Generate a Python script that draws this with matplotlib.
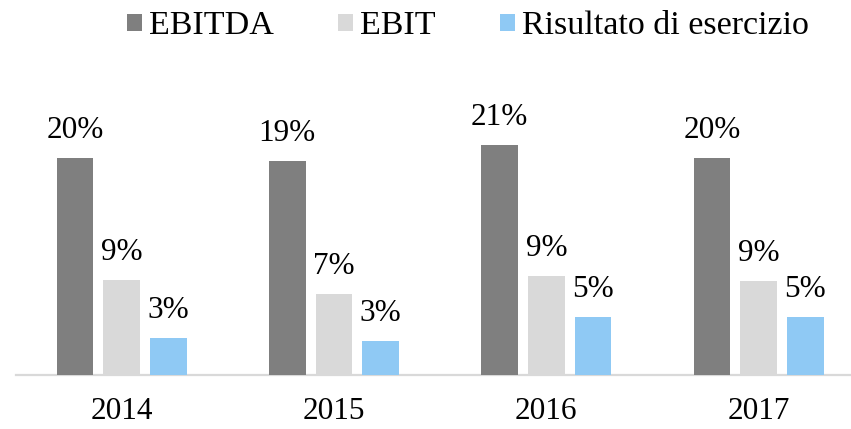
import matplotlib.pyplot as plt
import numpy as np

years = ['2014', '2015', '2016', '2017']
series = ['EBITDA', 'EBIT', 'Risultato di esercizio']
ebitda = [19.7, 19.45, 20.9, 19.7]
ebit = [8.6, 7.4, 9.0, 8.55]
risultato = [3.35, 3.05, 5.3, 5.3]
colors = ['#7f7f7f', '#d9d9d9', '#8fc9f4']

plt.rcParams['font.family'] = ['Liberation Serif', 'DejaVu Serif']

W, H, dpi = 851, 429, 100
fig = plt.figure(figsize=(W / dpi, H / dpi), dpi=dpi)

# axes placed in pixel terms: baseline at y=375, first category starts x~15.6
left = 15.6 / W
bottom = (H - 375) / H
ax = fig.add_axes([left, bottom, 1 - left, 275 / H])

x = np.arange(len(years))
pitch = 0.22
width = 0.173
for i, (vals, name) in enumerate(zip([ebitda, ebit, risultato], series)):
    xs = x + (i - 1) * pitch
    ax.bar(xs, vals, width, color=colors[i], label=name, zorder=3)
    for xi, v in zip(xs, vals):
        ax.annotate(f'{v:.0f}%', (xi, v), xytext=(0, 14.4), textcoords='offset points',
                    ha='center', va='baseline', fontsize=22.5, color='black')

ax.set_xlim(-0.5, -0.5 + (W - 15.6) / 212.3)
ax.set_ylim(0, 25)
ax.set_xticks(x)
ax.set_xticklabels(years, fontsize=22.5)
ax.tick_params(axis='x', length=0, pad=16)
ax.set_yticks([])
for s in ['left', 'right', 'top']:
    ax.spines[s].set_visible(False)
ax.spines['bottom'].set_color('#d9d9d9')
ax.spines['bottom'].set_linewidth(1.6)
ax.patch.set_visible(False)

fig.legend(loc='upper left', bbox_to_anchor=(127 / W, 1 - 11 / H), ncol=3, frameon=False,
           fontsize=24.5, handlelength=0.44, handleheight=0.38, handletextpad=0.2,
           columnspacing=1.9, borderpad=0, borderaxespad=0)

fig.savefig('out.png', dpi=dpi, facecolor='white')
